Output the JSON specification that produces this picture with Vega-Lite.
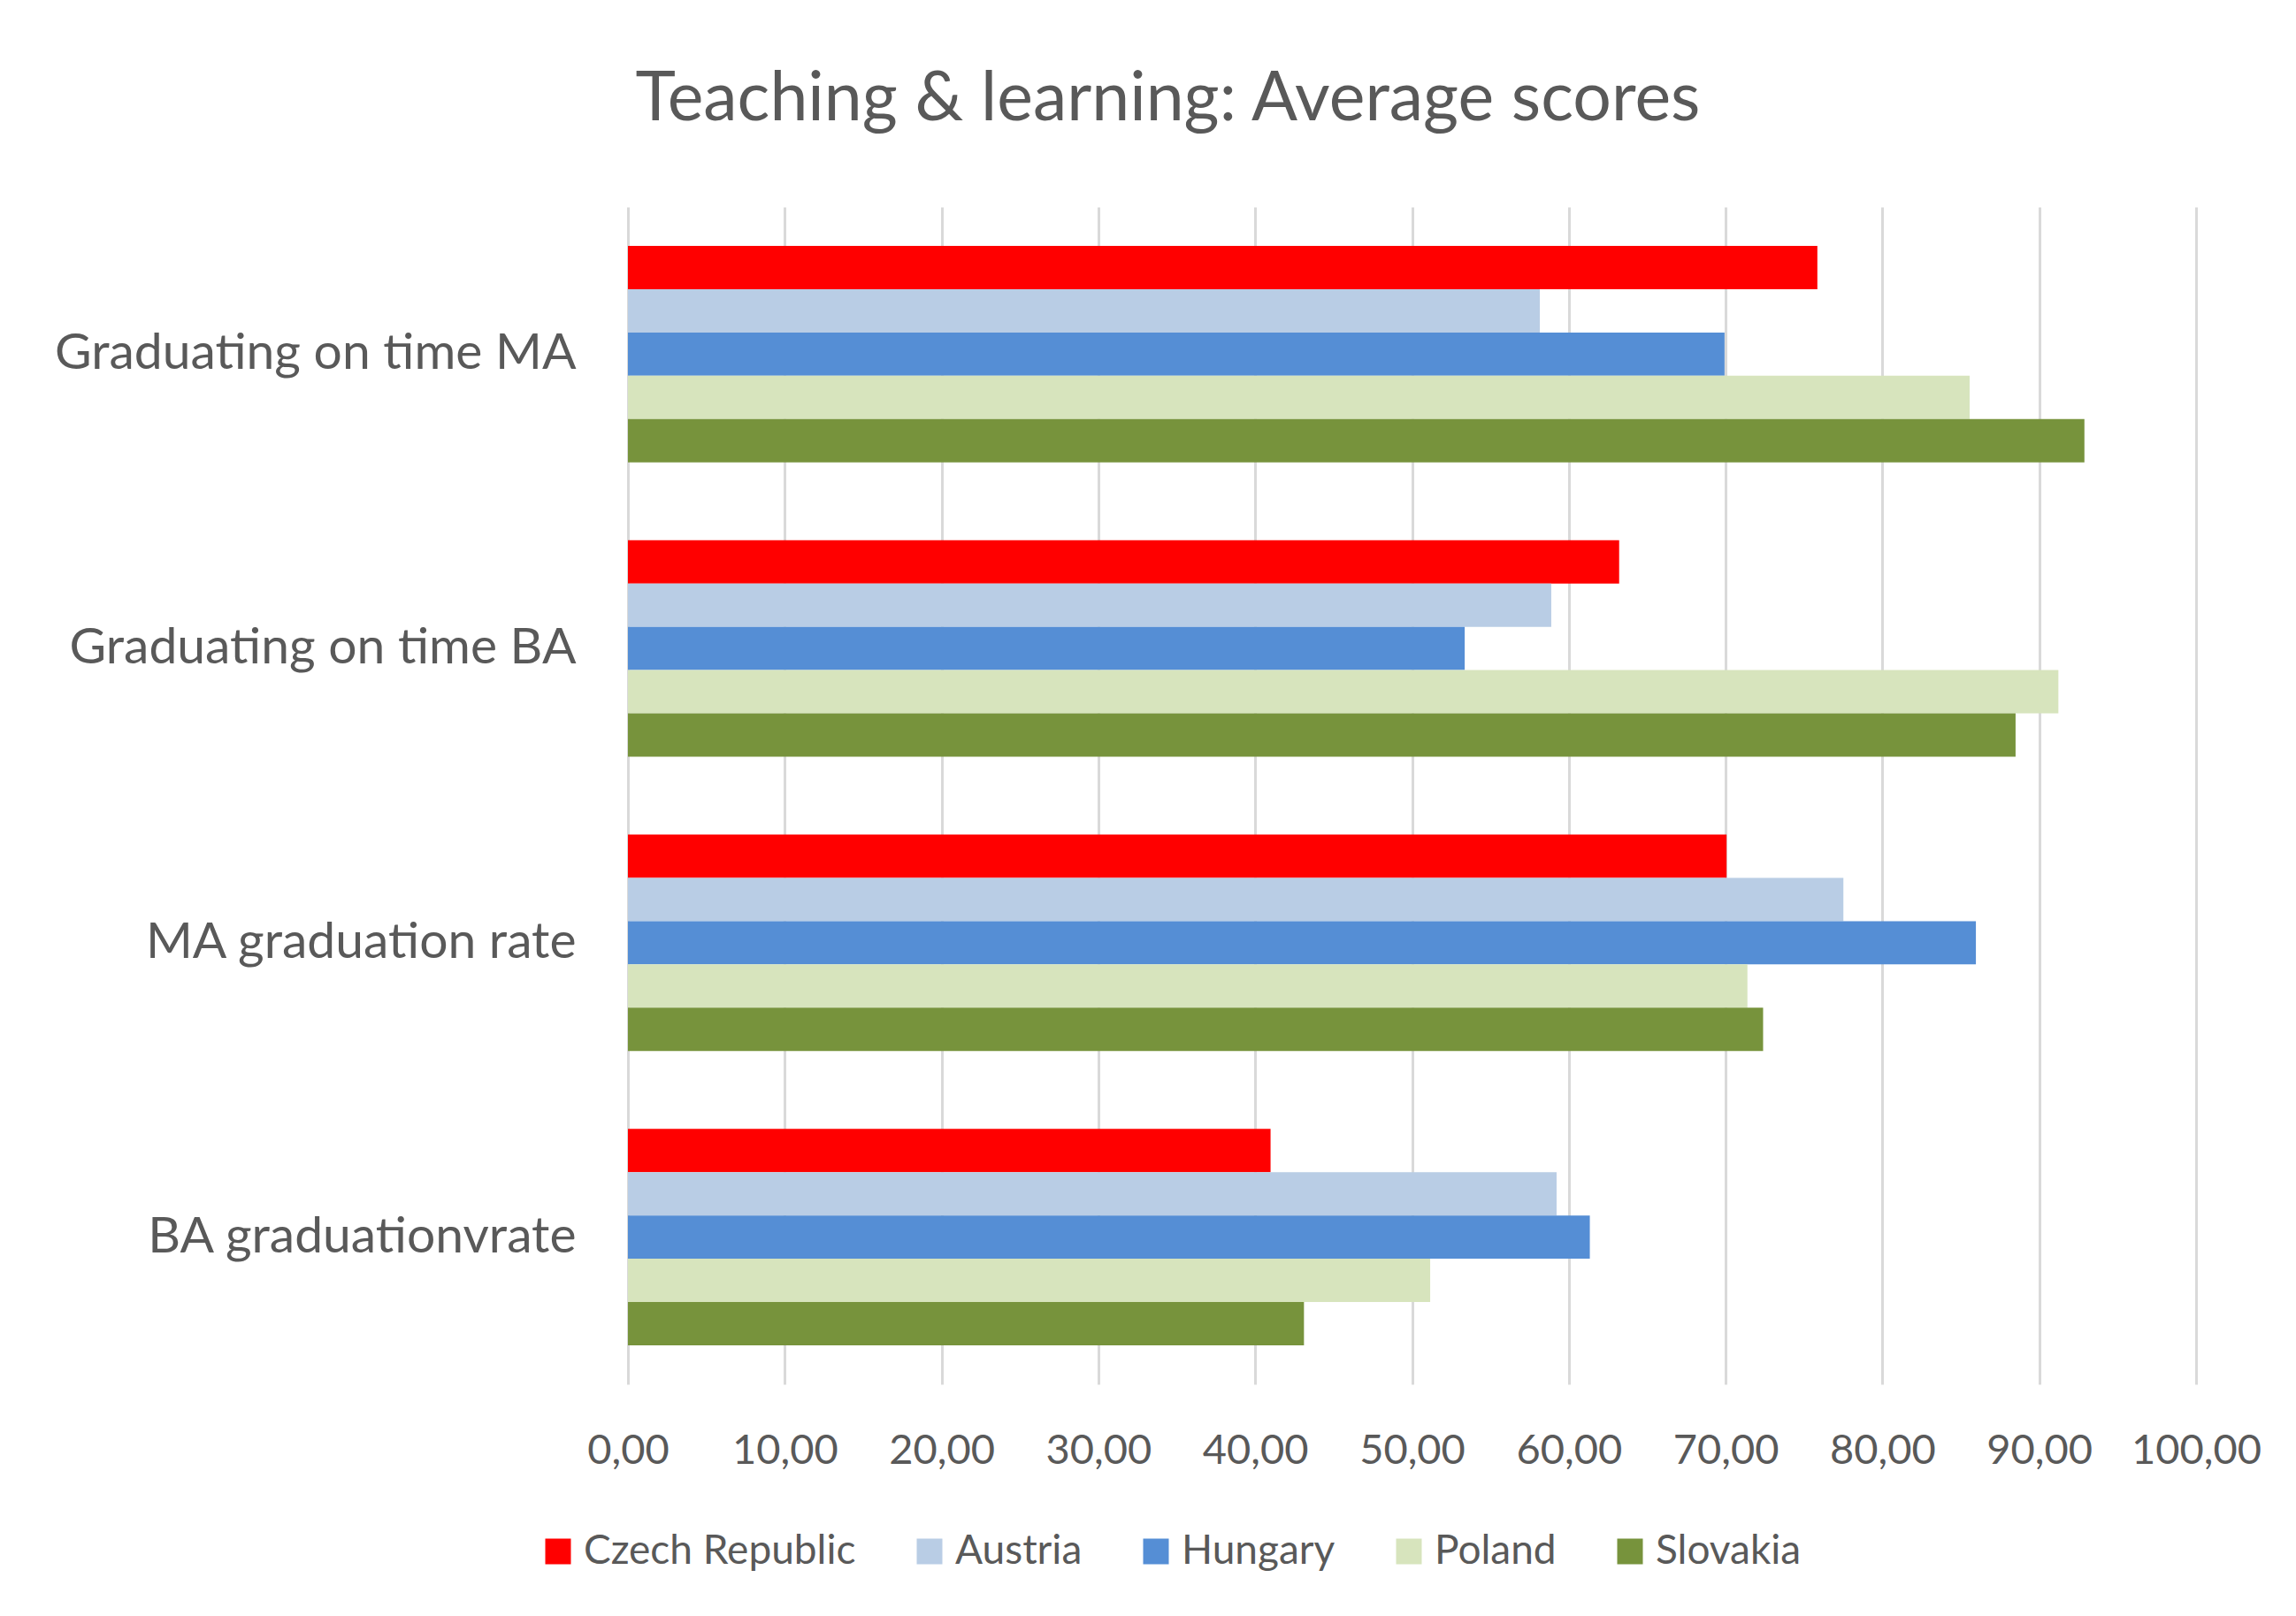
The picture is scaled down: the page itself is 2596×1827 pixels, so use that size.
{
  "$schema": "https://vega.github.io/schema/vega-lite/v6.json",
  "autosize": {"type": "none"},
  "padding": {"left": 710, "top": 234, "right": 113, "bottom": 262},
  "width": 1773,
  "height": 1331,
  "background": "white",
  "title": {
    "text": "Teaching & learning: Average scores",
    "frame": "group",
    "anchor": "middle",
    "dx": -276,
    "baseline": "alphabetic",
    "offset": 21,
    "font": "Lato",
    "fontSize": 77,
    "fontWeight": "normal",
    "color": "#595959",
    "limit": 0
  },
  "data": {
    "values": [
      {"category": "Graduating on time MA", "country": "Czech Republic", "value": 75.85},
      {"category": "Graduating on time MA", "country": "Austria", "value": 58.15},
      {"category": "Graduating on time MA", "country": "Hungary", "value": 69.93},
      {"category": "Graduating on time MA", "country": "Poland", "value": 85.56},
      {"category": "Graduating on time MA", "country": "Slovakia", "value": 92.88},
      {"category": "Graduating on time BA", "country": "Czech Republic", "value": 63.21},
      {"category": "Graduating on time BA", "country": "Austria", "value": 58.88},
      {"category": "Graduating on time BA", "country": "Hungary", "value": 53.36},
      {"category": "Graduating on time BA", "country": "Poland", "value": 91.22},
      {"category": "Graduating on time BA", "country": "Slovakia", "value": 88.49},
      {"category": "MA graduation rate", "country": "Czech Republic", "value": 70.06},
      {"category": "MA graduation rate", "country": "Austria", "value": 77.51},
      {"category": "MA graduation rate", "country": "Hungary", "value": 85.96},
      {"category": "MA graduation rate", "country": "Poland", "value": 71.39},
      {"category": "MA graduation rate", "country": "Slovakia", "value": 72.39},
      {"category": "BA graduationvrate", "country": "Czech Republic", "value": 40.98},
      {"category": "BA graduationvrate", "country": "Austria", "value": 59.22},
      {"category": "BA graduationvrate", "country": "Hungary", "value": 61.34},
      {"category": "BA graduationvrate", "country": "Poland", "value": 51.16},
      {"category": "BA graduationvrate", "country": "Slovakia", "value": 43.11}
    ]
  },
  "mark": {"type": "bar"},
  "encoding": {
    "y": {
      "field": "category",
      "type": "nominal",
      "sort": ["Graduating on time MA", "Graduating on time BA", "MA graduation rate", "BA graduationvrate"],
      "scale": {"paddingInner": 0.265, "paddingOuter": 0.1325},
      "axis": {
        "title": null,
        "ticks": false,
        "domain": false,
        "grid": false,
        "labelPadding": 59,
        "labelLimit": 0,
        "labelFont": "Lato",
        "labelFontSize": 57,
        "labelColor": "#595959"
      }
    },
    "yOffset": {
      "field": "country",
      "type": "nominal",
      "sort": ["Czech Republic", "Austria", "Hungary", "Poland", "Slovakia"],
      "scale": {"paddingInner": 0, "paddingOuter": 0}
    },
    "x": {
      "field": "value",
      "type": "quantitative",
      "scale": {"domain": [0, 100], "nice": false},
      "axis": {
        "title": null,
        "values": [0, 10, 20, 30, 40, 50, 60, 70, 80, 90, 100],
        "format": ".2f",
        "labelExpr": "replace(datum.label, '.', ',')",
        "ticks": false,
        "domain": false,
        "grid": true,
        "gridColor": "#D9D9D9",
        "gridWidth": 3,
        "labelPadding": 52,
        "labelFont": "Lato",
        "labelFontSize": 47,
        "labelColor": "#595959",
        "labelFlush": false
      }
    },
    "color": {
      "field": "country",
      "type": "nominal",
      "sort": ["Czech Republic", "Austria", "Hungary", "Poland", "Slovakia"],
      "scale": {
        "domain": ["Czech Republic", "Austria", "Hungary", "Poland", "Slovakia"],
        "range": ["#FF0000", "#B9CDE5", "#558ED5", "#D7E4BD", "#77933C"]
      },
      "legend": {
        "title": null,
        "orient": "none",
        "direction": "horizontal",
        "legendX": -102,
        "legendY": 1497,
        "symbolType": "square",
        "symbolSize": 841,
        "symbolStrokeWidth": 0,
        "labelOffset": 6,
        "labelLimit": 0,
        "columnPadding": 60,
        "labelFont": "Lato",
        "labelFontSize": 46,
        "labelColor": "#595959"
      }
    }
  },
  "config": {
    "view": {"stroke": null}
  }
}
